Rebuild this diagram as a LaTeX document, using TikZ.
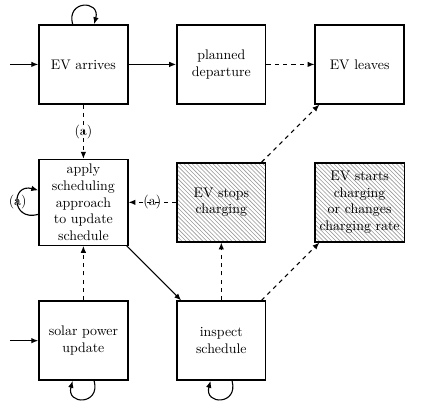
\documentclass[tikz,border=0pt]{standalone}
\usetikzlibrary{patterns,arrows.meta}
\begin{document}
\begin{tikzpicture}[
  box/.style={draw, line width=1pt, minimum width=2.25cm, minimum height=2cm, align=center},
  hatched/.style={box, pattern=north west lines, pattern color=gray!80},
  arr/.style={line width=0.8pt, -{Latex[length=5pt,width=4pt]}},
  darr/.style={arr, dashed},
  every loop/.style={arr, looseness=3, min distance=4mm}
]
\useasboundingbox (0,0) rectangle (11.21,-10.25);
\node[box] (arr) at (2.11,-1.63) {EV arrives};
\node[box] (plan) at (5.6,-1.63) {planned\\departure};
\node[box] (leave) at (9.1,-1.63) {EV leaves};
\node[box] (apply) at (2.11,-5.12) {apply\\scheduling\\approach\\to update\\schedule};
\node[hatched] (stop) at (5.6,-5.12) {EV stops\\charging};
\node[hatched] (start) at (9.1,-5.12) {EV starts\\charging\\or changes\\charging rate};
\node[box] (solar) at (2.11,-8.62) {solar power\\update};
\node[box] (insp) at (5.6,-8.62) {inspect\\schedule};
\coordinate (in1) at (0.25,-1.63);
\coordinate (in2) at (0.25,-8.62);

\draw[arr] (in1) -- (arr);
\draw[arr] (in2) -- (solar);
\draw[arr] (arr) edge[loop above] (arr);
\draw[arr] (solar) edge[loop below] (solar);
\draw[arr] (insp) edge[loop below] (insp);
\draw[arr] (apply) edge[loop left] node[midway, anchor=center] {(a)} (apply);
\draw[arr] (arr) -- (plan);
\draw[darr] (plan) -- (leave);
\draw[darr] (arr) -- node {(a)} (apply);
\draw[darr] (stop) -- node {(a)} (apply);
\draw[darr] (stop) -- (leave);
\draw[arr] (apply) -- (insp);
\draw[darr] (insp) -- (stop);
\draw[darr] (insp) -- (start);
\draw[darr] (solar) -- (apply);
\end{tikzpicture}
\end{document}
